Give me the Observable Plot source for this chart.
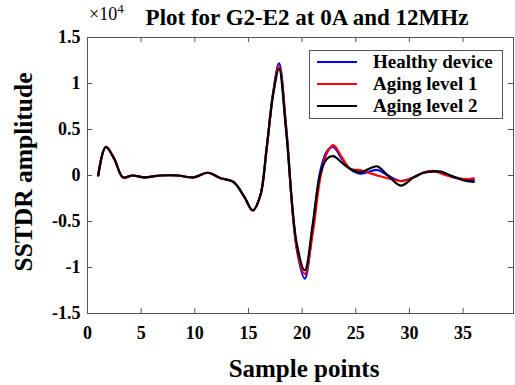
<!DOCTYPE html>
<html>
<head>
<meta charset="utf-8">
<script src="https://cdn.jsdelivr.net/npm/d3@7"></script>
<script src="https://cdn.jsdelivr.net/npm/@observablehq/plot@0.6"></script>
<style>
  html, body { margin: 0; padding: 0; background: #fff; }
  #chart { width: 515px; height: 385px; }
</style>
</head>
<body>
<div id="chart"></div>
<script>
// Sample positions (x) and amplitudes in units of 10^4
const samples = [1, 1.7, 2.5, 3.3, 4.2, 5.3, 6.8, 8.4, 9.9, 11.2, 12.4, 13.6, 14.6, 15.4, 16.1, 16.7, 17.3, 17.85, 18.5, 19.5, 20.25, 21.0, 21.7, 22.3, 22.9, 23.7, 24.5, 25.4, 26.2, 27.0, 28.0, 29.2, 30.4, 31.3, 32.2, 33.0, 33.8, 35.0, 36];
const healthy = [0, 0.31, 0.18, -0.02, 0.0, -0.02, 0.0, 0.0, -0.02, 0.03, -0.03, -0.07, -0.23, -0.38, -0.22, 0.30, 0.90, 1.22, 0.55, -0.80, -1.12, -0.55, 0.05, 0.26, 0.31, 0.18, 0.07, 0.02, 0.04, 0.06, 0.0, -0.06, -0.02, 0.03, 0.045, 0.04, 0.0, -0.04, -0.05];
const aging1  = [0, 0.31, 0.18, -0.02, 0.0, -0.02, 0.0, 0.0, -0.02, 0.03, -0.03, -0.07, -0.23, -0.38, -0.22, 0.30, 0.89, 1.19, 0.52, -0.78, -1.07, -0.62, -0.02, 0.24, 0.33, 0.20, 0.07, 0.06, 0.03, 0.0, -0.03, -0.06, -0.02, 0.03, 0.05, 0.02, -0.01, -0.04, -0.03];
const aging2  = [0, 0.31, 0.18, -0.02, 0.0, -0.02, 0.0, 0.0, -0.02, 0.03, -0.03, -0.07, -0.23, -0.38, -0.22, 0.30, 0.88, 1.16, 0.50, -0.74, -1.03, -0.52, 0.02, 0.18, 0.21, 0.14, 0.07, 0.035, 0.07, 0.10, 0.0, -0.11, -0.02, 0.03, 0.045, 0.04, 0.0, -0.05, -0.07];
const seriesNames = ["Healthy device", "Aging level 1", "Aging level 2"];
const seriesColors = ["#0000ff", "#ff0000", "#000000"];
const xTicks = [0, 5, 10, 15, 20, 25, 30, 35];
const yTicks = [-1.5, -1, -0.5, 0, 0.5, 1, 1.5];

const xDomain = [0, 39.7];
const yDomain = [-1.5, 1.5];

const data = [];
[healthy, aging1, aging2].forEach((vals, s) => {
  vals.forEach((v, i) => data.push({x: samples[i], y: v, series: seriesNames[s]}));
});

const W = 515, H = 385;
const mL = 87, mR = 2, mT = 37, mB = 72;
const tickLenX = 5 / ((W - mL - mR) / (xDomain[1] - xDomain[0]));
const tickLenY = 5 / ((H - mT - mB) / (yDomain[1] - yDomain[0]));
const frameColor = "#555";
const font = "'Liberation Serif', 'Times New Roman', serif";

const chart = Plot.plot({
  width: W, height: H,
  marginLeft: mL, marginRight: mR, marginTop: mT, marginBottom: mB,
  style: {fontFamily: font, fontWeight: "bold", fontSize: "18px", background: "#fff", color: "#000"},
  x: {domain: xDomain, ticks: xTicks, label: null},
  y: {domain: yDomain, ticks: yTicks, label: null},
  color: {domain: seriesNames, range: seriesColors},
  marks: [
    Plot.axisX({ticks: xTicks, tickSize: 0, tickPadding: 13, tickFormat: d => String(d), label: null}),
    Plot.axisY({ticks: yTicks, tickSize: 0, tickPadding: 7, tickFormat: d => String(d), label: null}),
    // inward ticks on all sides
    Plot.ruleX(xTicks, {x: d => d, y1: yDomain[0], y2: yDomain[0] + tickLenY, stroke: frameColor}),
    Plot.ruleX(xTicks, {x: d => d, y1: yDomain[1], y2: yDomain[1] - tickLenY, stroke: frameColor}),
    Plot.ruleY(yTicks, {y: d => d, x1: xDomain[0], x2: xDomain[0] + tickLenX, stroke: frameColor}),
    Plot.ruleY(yTicks, {y: d => d, x1: xDomain[1], x2: xDomain[1] - tickLenX, stroke: frameColor}),
    Plot.frame({stroke: frameColor, strokeWidth: 1}),
    Plot.line(data, {x: "x", y: "y", z: "series", stroke: "series", strokeWidth: 2.2, curve: "catmull-rom"})
  ]
});

document.getElementById("chart").appendChild(chart);
const svg = d3.select(chart);

// Title and exponent
svg.append("text").attr("x", 307).attr("y", 25).attr("text-anchor", "middle")
  .style("font-family", font).style("font-weight", "bold").style("font-size", "23px")
  .text("Plot for G2-E2 at 0A and 12MHz");
const ex = svg.append("text").attr("x", 89).attr("y", 20).attr("text-anchor", "start")
  .style("font-family", font).style("font-weight", "normal").style("font-size", "18px");
ex.append("tspan").text("\u00d710");
ex.append("tspan").attr("dy", -7).style("font-size", "13px").text("4");

// Axis labels
svg.append("text").attr("x", 304).attr("y", 377).attr("text-anchor", "middle")
  .style("font-family", font).style("font-weight", "bold").style("font-size", "25px")
  .text("Sample points");
svg.append("text").attr("transform", "translate(32,172) rotate(-90)").attr("text-anchor", "middle")
  .style("font-family", font).style("font-weight", "bold").style("font-size", "25.5px")
  .text("SSTDR amplitude");

// Legend
const lg = svg.append("g");
lg.append("rect").attr("x", 309.5).attr("y", 50.5).attr("width", 193).attr("height", 68)
  .attr("fill", "#fff").attr("stroke", frameColor);
seriesNames.forEach((name, i) => {
  const yy = 62 + i * 22;
  lg.append("line").attr("x1", 317).attr("x2", 357).attr("y1", yy).attr("y2", yy)
    .attr("stroke", seriesColors[i]).attr("stroke-width", 2);
  lg.append("text").attr("x", 373).attr("y", yy + 6).attr("text-anchor", "start")
    .style("font-family", font).style("font-weight", "bold").style("font-size", "19px")
    .text(name);
});
</script>
</body>
</html>
